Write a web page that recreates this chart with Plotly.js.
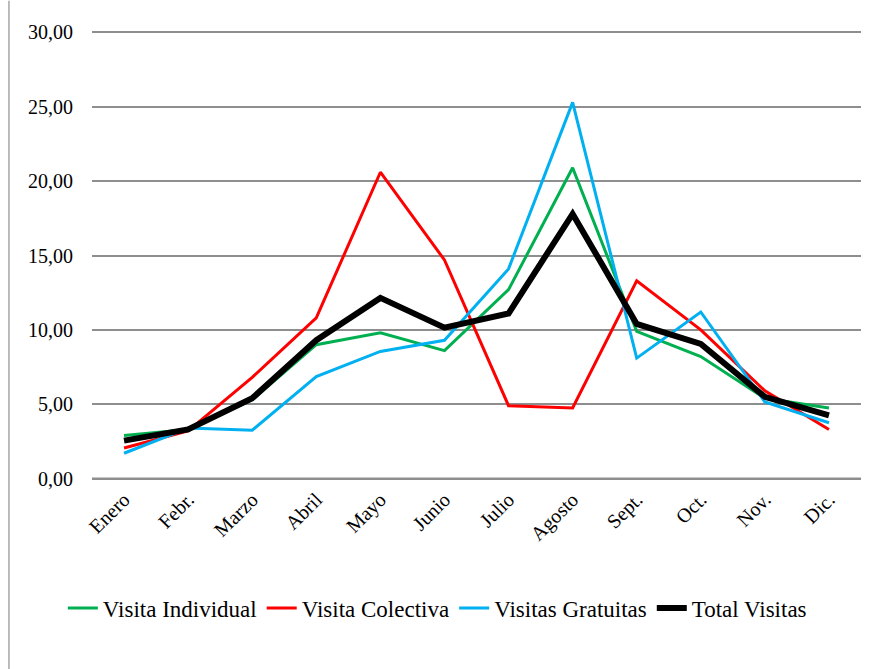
<!DOCTYPE html>
<html>
<head>
<meta charset="utf-8">
<script src="https://cdn.plot.ly/plotly-3.0.1.min.js"></script>
<style>html,body{margin:0;padding:0;background:#fff;}#chart{width:880px;height:669px;}</style>
</head>
<body>
<div id="chart"></div>
<script>
const months = ["Enero", "Febr.", "Marzo", "Abril", "Mayo", "Junio", "Julio", "Agosto", "Sept.", "Oct.", "Nov.", "Dic."];
const visitaIndividual = [2.9, 3.3, 5.3, 9.0, 9.8, 8.6, 12.7, 20.9, 9.9, 8.2, 5.4, 4.75];
const visitaColectiva = [2.05, 3.2, 6.8, 10.8, 20.6, 14.7, 4.9, 4.75, 13.3, 10.0, 5.9, 3.3];
const visitasGratuitas = [1.7, 3.4, 3.25, 6.85, 8.55, 9.3, 14.1, 25.3, 8.1, 11.2, 5.15, 3.75];
const totalVisitas = [2.55, 3.3, 5.4, 9.3, 12.15, 10.15, 11.1, 17.8, 10.4, 9.05, 5.5, 4.25];
const yTicks = [0, 5, 10, 15, 20, 25, 30];
const yTickText = ["0,00", "5,00", "10,00", "15,00", "20,00", "25,00", "30,00"];

const font = "Liberation Serif, serif";
function tr(name, y, color, width) {
  return {x: months, y: y, name: name, type: "scatter", mode: "lines",
          line: {color: color, width: width, shape: "linear"}};
}
const data = [
  tr("Visita Individual", visitaIndividual, "#00B050", 3),
  tr("Visita Colectiva", visitaColectiva, "#FF0000", 3),
  tr("Visitas Gratuitas", visitasGratuitas, "#00B0F0", 3),
  tr("Total Visitas", totalVisitas, "#000000", 6)
];
const gridColor = "#8E8E8E";
const layout = {
  width: 880, height: 669,
  margin: {l: 92, r: 19, t: 27.5, b: 185.5},
  paper_bgcolor: "#fff", plot_bgcolor: "#fff",
  font: {family: font, size: 20, color: "#000"},
  showlegend: true,
  xaxis: {type: "category", range: [-0.5, 11.5], tickangle: -45, showgrid: false, zeroline: false,
          showline: false, ticks: "", tickfont: {family: font, size: 20, color: "#000"}},
  yaxis: {range: [-0.3, 30.3], tickvals: yTicks, ticktext: yTickText, showgrid: true,
          gridcolor: gridColor, gridwidth: 2, zeroline: false,
          showline: false, ticks: "", ticklabelstandoff: 18,
          tickfont: {family: font, size: 20, color: "#000"}},
  legend: {orientation: "h", xref: "container", x: 0.497, xanchor: "center",
           yref: "container", y: 0.091, yanchor: "middle",
           font: {family: font, size: 23, color: "#000"}, bgcolor: "rgba(0,0,0,0)"},
  shapes: [
    {type: "line", xref: "paper", yref: "paper", x0: -0.108, x1: -0.108, y0: 1.06, y1: -0.42,
     line: {color: "#A6A6A6", width: 1.5}},
    {type: "line", xref: "paper", yref: "y", x0: 0, x1: 1, y0: 0, y1: 0, layer: "above",
     line: {color: gridColor, width: 2}}
  ]
};
Plotly.newPlot("chart", data, layout, {displayModeBar: false, staticPlot: true});
</script>
</body>
</html>
